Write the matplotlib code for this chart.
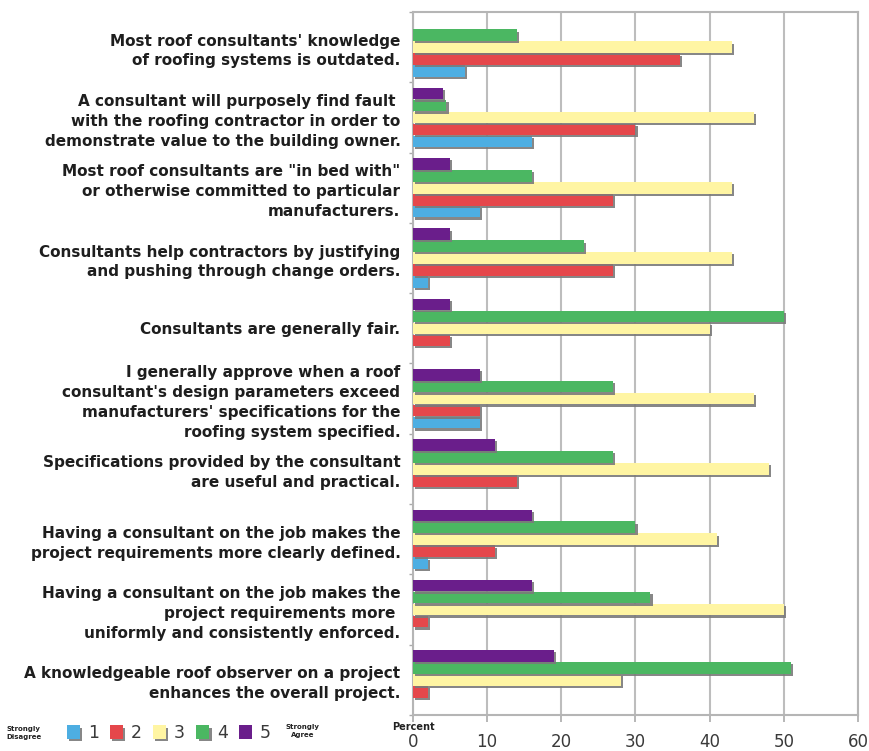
import matplotlib
matplotlib.use("Agg")
import matplotlib.pyplot as plt
import matplotlib.patheffects as pe
import numpy as np

# Survey statements (top to bottom)
statements = [
    "Most roof consultants' knowledge\nof roofing systems is outdated.",
    "A consultant will purposely find fault \nwith the roofing contractor in order to\ndemonstrate value to the building owner.",
    "Most roof consultants are \"in bed with\"\nor otherwise committed to particular\nmanufacturers.",
    "Consultants help contractors by justifying\nand pushing through change orders.",
    "Consultants are generally fair.",
    "I generally approve when a roof\nconsultant's design parameters exceed\nmanufacturers' specifications for the\nroofing system specified.",
    "Specifications provided by the consultant\nare useful and practical.",
    "Having a consultant on the job makes the\nproject requirements more clearly defined.",
    "Having a consultant on the job makes the\nproject requirements more \nuniformly and consistently enforced.",
    "A knowledgeable roof observer on a project\nenhances the overall project.",
]

# Percent of respondents for each rating (1 = strongly disagree ... 5 = strongly agree)
rating_1 = [7, 16, 9, 2, 0, 9, 0, 2, 0, 0]
rating_2 = [36, 30, 27, 27, 5, 9, 14, 11, 2, 2]
rating_3 = [43, 46, 43, 43, 40, 46, 48, 41, 50, 28]
rating_4 = [14, 4.5, 16, 23, 50, 27, 27, 30, 32, 51]
rating_5 = [0, 4, 5, 5, 5, 9, 11, 16, 16, 19]

rating_labels = ["1", "2", "3", "4", "5"]
x_ticks = [0, 10, 20, 30, 40, 50, 60]

series = [rating_1, rating_2, rating_3, rating_4, rating_5]
colors = ["#4DAEE2", "#E5474B", "#FFF5A3", "#4BB762", "#6A1E8B"]

fig = plt.figure(figsize=(8.7, 7.51), dpi=100)
W, H = 870, 751
ax = fig.add_axes([413 / W, 1 - 715 / H, (858 - 413) / W, (715 - 12) / H])

y = np.arange(len(statements))
step = 0.17
bar_h = 0.165
offsets = [2 * step, step, 0, -step, -2 * step]  # rating 1 lowest, rating 5 on top

shadow = [pe.SimplePatchShadow(offset=(1.6, -1.6), shadow_rgbFace="#7a7a7a", alpha=0.9),
          pe.Normal()]

handles = []
for vals, off, col, lab in zip(series, offsets, colors, rating_labels):
    bars = ax.barh(y + off, vals, height=bar_h, color=col, edgecolor="none",
                   label=lab, zorder=3)
    for b in bars:
        if b.get_width() > 0:
            b.set_path_effects(shadow)
    handles.append(bars)

ax.set_ylim(len(statements) - 0.5, -0.5)
ax.set_xlim(0, 60)

ax.set_yticks(y)
ax.set_yticklabels(statements, fontsize=11, fontweight="bold", color="#1e1e1e",
                   multialignment="right", linespacing=1.4)
ax.set_yticks(np.arange(len(statements) + 1) - 0.5, minor=True)
ax.tick_params(axis="y", which="major", length=0, pad=9)
ax.tick_params(axis="y", which="minor", length=3, color="#aaaaaa", width=1)

ax.set_xticks(x_ticks)
ax.set_xticklabels([str(t) for t in x_ticks], fontsize=12, color="#3a3a3a")
ax.tick_params(axis="x", length=5, color="#aaaaaa", width=1.2, pad=8)

ax.grid(axis="x", color="#bdbdbd", linewidth=1.5, zorder=0)
ax.set_axisbelow(True)
for s in ax.spines.values():
    s.set_color("#b5b5b5")
    s.set_linewidth(1.5)

fig.text(413 / W, 1 - 727 / H, "Percent", fontsize=7, fontweight="bold",
         color="#222222", ha="center", va="center")

leg = fig.legend(handles=handles, labels=rating_labels, ncol=5, frameon=False,
                 loc="center left", bbox_to_anchor=(67 / W, 1 - 733 / H),
                 fontsize=12.5, handlelength=0.75, handleheight=0.8,
                 handletextpad=0.45, columnspacing=0.65, borderpad=0,
                 borderaxespad=0)
for t in leg.get_texts():
    t.set_color("#3a3a3a")

fig.text(24 / W, 1 - 733 / H, "Strongly\nDisagree", fontsize=5, fontweight="bold",
         color="#222222", ha="center", va="center", linespacing=1.2)
fig.text(303 / W, 1 - 731 / H, "Strongly\nAgree", fontsize=5, fontweight="bold",
         color="#222222", ha="center", va="center", linespacing=1.2)

fig.savefig("out.png", dpi=100, facecolor="white")
